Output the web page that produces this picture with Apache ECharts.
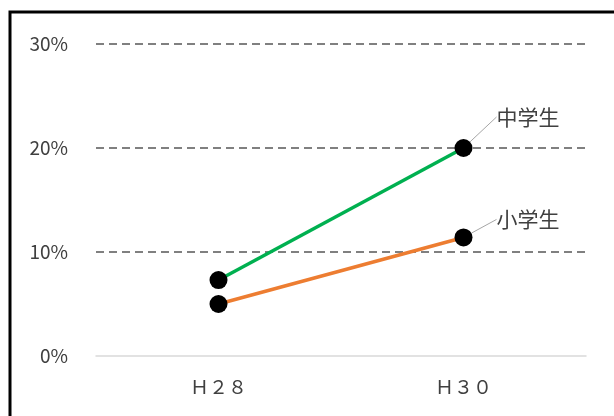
<!DOCTYPE html>
<html><head><meta charset="utf-8">
<script src="https://cdn.jsdelivr.net/npm/echarts@6/dist/echarts.min.js"></script>
<style>html,body{margin:0;padding:0;background:#fff}#c{width:614px;height:416px}</style>
</head><body><div id="c"></div>
<script>
const categories = ['Ｈ２８', 'Ｈ３０'];
const juniorHigh = [7.3, 20.0];
const elementary = [5.0, 11.4];
const yTicks = [0, 10, 20, 30];

const chart = echarts.init(document.getElementById('c'));
const font = '"Noto Sans CJK JP", "Noto Sans", sans-serif';

function mk(vals) {
  return vals.map((v, i) => i === vals.length - 1 ? { value: v, label: { show: true } } : v);
}

function series(name, vals, color, dy) {
  return {
    name, type: 'line', data: mk(vals),
    symbol: 'circle', symbolSize: 18,
    itemStyle: { color: '#000' },
    lineStyle: { color, width: 3.5 },
    z: 3,
    label: { show: false, formatter: name, position: 'right', fontFamily: font, fontSize: 21, color: '#404040' },
    labelLine: { show: true, lineStyle: { color: '#a6a6a6', width: 1 } },
    labelLayout: { dx: 19, dy: dy },
    emphasis: { disabled: true }
  };
}

chart.setOption({
  animation: false,
  backgroundColor: '#fff',
  grid: { left: 96, right: 28, top: 44, bottom: 60 },
  xAxis: {
    type: 'category', data: categories,
    axisLine: { lineStyle: { color: '#d9d9d9', width: 1.5 } },
    axisTick: { show: false },
    axisLabel: { fontFamily: font, fontSize: 19, color: '#404040', margin: 21 }
  },
  yAxis: {
    type: 'value', min: yTicks[0], max: yTicks[yTicks.length - 1], interval: 10,
    axisLine: { show: false }, axisTick: { show: false },
    axisLabel: { formatter: '{value}%', fontFamily: font, fontSize: 19, color: '#404040', margin: 28 },
    splitLine: { showMinLine: false, lineStyle: { color: '#808080', width: 2, type: [8, 5] } }
  },
  series: [
    series('中学生', juniorHigh, '#00B050', -31),
    series('小学生', elementary, '#ED7D31', -18)
  ],
  graphic: [{
    type: 'polyline', silent: true,
    shape: { points: [[10, 430], [10, 12], [630, 12]] },
    style: { stroke: '#000', lineWidth: 3, fill: null }
  }]
});
</script></body></html>
